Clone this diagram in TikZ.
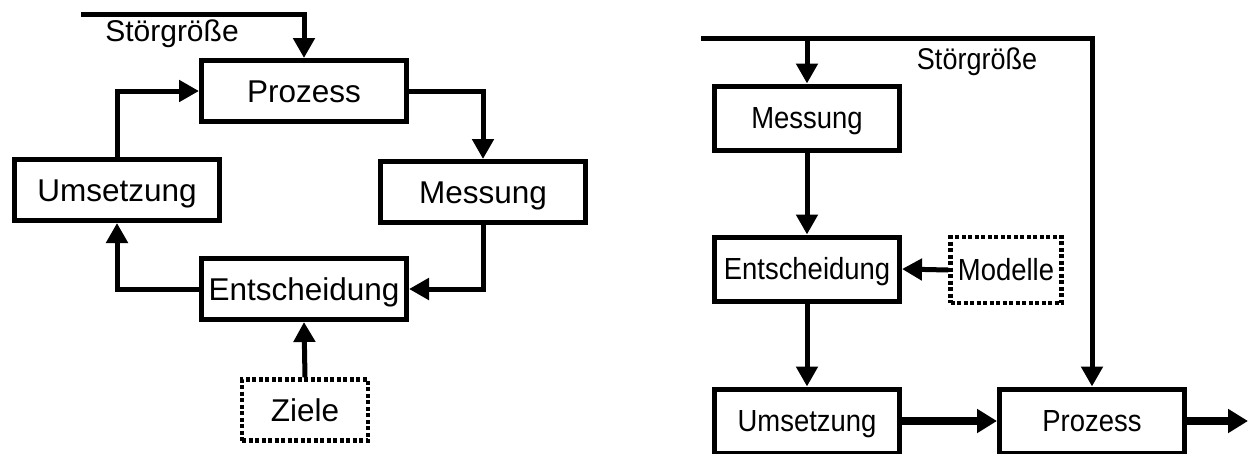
\documentclass[tikz,border=0pt]{standalone}
\usepackage{fontspec}
\setmainfont{Liberation Sans}
\newfontfamily\condfont[FakeStretch=0.9]{Liberation Sans}
\usetikzlibrary{arrows.meta}
\tikzset{
  boxL/.style={draw, line width=5pt, inner sep=0pt, minimum width=205pt, minimum height=61pt,
    font=\fontsize{31.5}{36}\selectfont, text height=22.5pt, text depth=0pt},
  boxR/.style={draw, line width=5pt, inner sep=0pt, minimum width=185pt, minimum height=64pt,
    font=\condfont\fontsize{30.5}{34}\selectfont, text height=21.8pt, text depth=0pt},
  dotbox/.style={draw, line width=4.5pt, dash pattern=on 4pt off 2.5pt, inner sep=0pt},
  conn/.style={line width=5pt, -{Triangle[length=20pt, width=21pt]}},
  thickconn/.style={line width=8pt, -{Triangle[length=20pt, width=23pt]}},
  lab/.style={inner sep=0pt, text depth=0pt},
}
\begin{document}
\begin{tikzpicture}[x=1pt, y=-1pt]
\useasboundingbox (0,0) rectangle (1253,453);
\clip (0,0) rectangle (1253,453);
% ---------- left diagram ----------
\node[boxL] (prozL) at (304,91) {Prozess};
\node[boxL] (umsL) at (117,190) {Umsetzung};
\node[boxL] (messL) at (483,192) {Messung};
\node[boxL] (entL) at (304,289) {Entscheidung};
\node[boxL, dotbox, minimum width=126pt] (zielL) at (305,410) {Ziele};
\node[lab, font=\fontsize{30}{34}\selectfont, text height=21.5pt] (stoerL) at (172,31) {Störgröße};
\coordinate (sL) at (81,14);
\draw[conn] (sL) -| (prozL.north);
\draw[conn] (umsL.north) |- (prozL.west);
\draw[conn] (prozL.east) -| (messL.north);
\draw[conn] (messL.south) |- (entL.east);
\draw[conn] (entL.west) -| (umsL.south);
\draw[conn] (zielL.north) -- (entL.south);
% ---------- right diagram ----------
\node[boxR] (messR) at (807,118) {Messung};
\node[boxR] (entR) at (807,269) {Entscheidung};
\node[boxR, dotbox, minimum width=111pt, minimum height=66pt] (modR) at (1006,270) {Modelle};
\node[boxR] (umsR) at (807,421) {Umsetzung};
\node[boxR] (prozR) at (1092,421) {Prozess};
\node[lab, font=\condfont\fontsize{30}{34}\selectfont, text height=21.5pt] (stoerR) at (977,59) {Störgröße};
\coordinate (sR) at (701,38);
\coordinate (outR) at (1248,421);
\draw[conn] (sR) -| (prozR.north);
\draw[conn] (messR.north |- sR) -- (messR.north);
\draw[conn] (messR.south) -- (entR.north);
\draw[conn] (modR.west) -- (entR.east);
\draw[conn] (entR.south) -- (umsR.north);
\draw[thickconn] (umsR.east) -- (prozR.west);
\draw[thickconn] (prozR.east) -- (outR);
\end{tikzpicture}
\end{document}
